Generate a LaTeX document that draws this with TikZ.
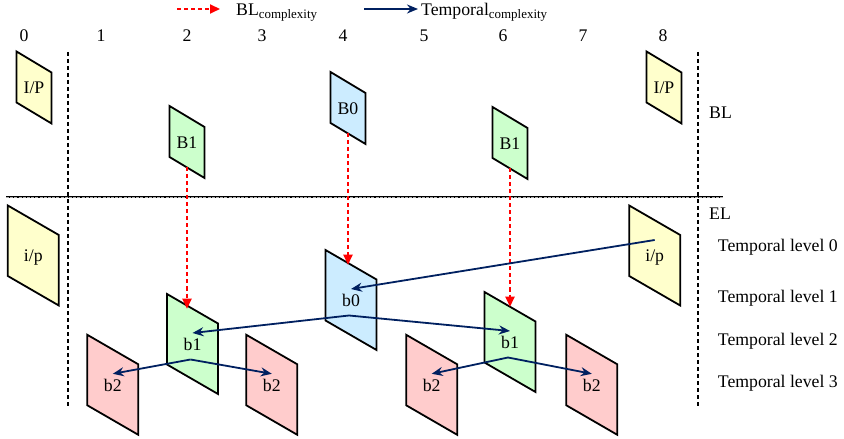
\documentclass[tikz,border=0pt]{standalone}
\usepackage{fontspec}
\setmainfont{Liberation Serif}
\usetikzlibrary{arrows.meta}
\definecolor{Yfill}{RGB}{255,255,204}
\definecolor{Gfill}{RGB}{204,255,204}
\definecolor{Bfill}{RGB}{204,236,255}
\definecolor{Pfill}{RGB}{255,204,204}
\definecolor{Navy}{RGB}{0,32,96}
\newcommand\cplx{\raisebox{-3.5pt}{\fontsize{13}{14}\selectfont complexity}}

\tikzset{
  frameline/.style={draw,line width=1.8bp,line join=miter},
  framelabel/.style={anchor=base,inner sep=0pt},
  sidelabel/.style={anchor=west,inner sep=0pt},
  blarrow/.style={red,line width=2bp,dash pattern=on 4bp off 3bp,-{Triangle[length=10bp,width=9bp]}},
  tparrow/.style={Navy,line width=1.8bp,-{Stealth[length=11bp,width=9bp]}},
  sepline/.style={black,line width=2bp,dash pattern=on 4bp off 3bp},
  % base layer frame
  smallframe/.pic={
    \path[pic actions] (-17.5,-36) -- (17.5,-15) -- (17.5,36) -- (-17.5,15) -- cycle;
    \coordinate (-lbl) at (0,6.5);
    \coordinate (-bot) at (0,25.5);
  },
  % enhancement layer frame
  bigframe/.pic={
    \path[pic actions] (-25.5,-50) -- (25.5,-20.5) -- (25.5,50) -- (-25.5,20.5) -- cycle;
    \coordinate (-lbl) at (0,6.5);
    \coordinate (-top) at (0,-35.25);
    \coordinate (-src) at (0,-15.5);
    \coordinate (-in) at (0,-11);
    \coordinate (-out) at (-2,15.5);
  },
}

\begin{document}
\begin{tikzpicture}[x=1bp,y=-1bp,font=\fontsize{17.8}{19}\selectfont]
\path[use as bounding box] (0,0) rectangle (844,439);

% key
\coordinate (blkeya) at (177,9);
\coordinate (blkeyb) at (220,9);
\draw[blarrow] (blkeya) -- (blkeyb);
\node[anchor=base west,inner sep=0pt] (blkey) at (236,15.5) {BL\cplx};
\coordinate (tpkeya) at (364,9);
\coordinate (tpkeyb) at (418,9);
\draw[tparrow] (tpkeya) -- (tpkeyb);
\node[anchor=base west,inner sep=0pt] (tpkey) at (421,15.5) {Temporal\cplx};

% frame numbers
\foreach \n/\x in {0/24,1/101,2/187,3/262,4/343,5/424,6/503,7/583,8/663}
  \node[anchor=base,inner sep=0pt] (num\n) at (\x,41.7) {\n};

% layer separators
\coordinate (hsa) at (6,197);
\coordinate (hsb) at (723,197);
\draw[line width=2.6bp] (hsa) -- (hsb);
\draw[black!30,line width=0.7bp,dash pattern=on 3bp off 1.2bp] (hsa) -- (hsb);
\coordinate (vsla) at (68,52);
\coordinate (vslb) at (68,406);
\coordinate (vsra) at (698,52);
\coordinate (vsrb) at (698,406);
\draw[sepline] (vsla) -- (vslb);
\draw[sepline] (vsra) -- (vsrb);

% base layer
\pic[frameline,fill=Yfill] (fIPa) at (34,87.5) {smallframe};
\pic[frameline,fill=Gfill] (fB1a) at (187,142) {smallframe};
\pic[frameline,fill=Bfill] (fB0) at (348,108) {smallframe};
\pic[frameline,fill=Gfill] (fB1b) at (510,143) {smallframe};
\pic[frameline,fill=Yfill] (fIPb) at (664,87.5) {smallframe};
\node[framelabel] (IPa) at (fIPa-lbl) {I/P};
\node[framelabel] (B1a) at (fB1a-lbl) {B1};
\node[framelabel] (B0) at (fB0-lbl) {B0};
\node[framelabel] (B1b) at (fB1b-lbl) {B1};
\node[framelabel] (IPb) at (fIPb-lbl) {I/P};

% enhancement layer
\pic[frameline,fill=Yfill] (fipa) at (33.3,255.5) {bigframe};
\pic[frameline,fill=Pfill] (fb2a) at (112.8,384.8) {bigframe};
\pic[frameline,fill=Gfill] (fb1a) at (192.5,344) {bigframe};
\pic[frameline,fill=Pfill] (fb2b) at (271.8,384.8) {bigframe};
\pic[frameline,fill=Bfill] (fb0) at (351,300) {bigframe};
\pic[frameline,fill=Pfill] (fb2c) at (431.7,384.8) {bigframe};
\pic[frameline,fill=Gfill] (fb1b) at (510,342) {bigframe};
\pic[frameline,fill=Pfill] (fb2d) at (591.8,384.8) {bigframe};
\pic[frameline,fill=Yfill] (fipb) at (654.7,255.5) {bigframe};
\node[framelabel] (ipa) at (fipa-lbl) {i/p};
\node[framelabel] (b2a) at (fb2a-lbl) {b2};
\node[framelabel] (b1a) at (fb1a-lbl) {b1};
\node[framelabel] (b2b) at (fb2b-lbl) {b2};
\node[framelabel] (b0) at (fb0-lbl) {b0};
\node[framelabel] (b2c) at (fb2c-lbl) {b2};
\node[framelabel] (b1b) at (fb1b-lbl) {b1};
\node[framelabel] (b2d) at (fb2d-lbl) {b2};
\node[framelabel] (ipb) at (fipb-lbl) {i/p};

% inter-layer prediction
\draw[blarrow] (fB1a-bot) -- (fB1a-bot |- fb1a-top);
\draw[blarrow] (fB0-bot) -- (fB0-bot |- fb0-top);
\draw[blarrow] (fB1b-bot) -- (fB1b-bot |- fb1b-top);

% temporal prediction
\draw[tparrow] (fipb-src) -- (fb0-in);
\draw[tparrow] (fb0-out) -- (fb1a-in);
\draw[tparrow] (fb0-out) -- (fb1b-in);
\draw[tparrow] (fb1a-out) -- (fb2a-in);
\draw[tparrow] (fb1a-out) -- (fb2b-in);
\draw[tparrow] (fb1b-out) -- (fb2c-in);
\draw[tparrow] (fb1b-out) -- (fb2d-in);

% layer and level names
\node[sidelabel] (bl) at (709,112.3) {BL};
\node[sidelabel] (el) at (709,214) {EL};
\node[sidelabel] (lv0) at (717.7,247.3) {Temporal level 0};
\node[sidelabel] (lv1) at (717.7,298.3) {Temporal level 1};
\node[sidelabel] (lv2) at (717.7,341.7) {Temporal level 2};
\node[sidelabel] (lv3) at (717.7,383.3) {Temporal level 3};
\end{tikzpicture}
\end{document}
